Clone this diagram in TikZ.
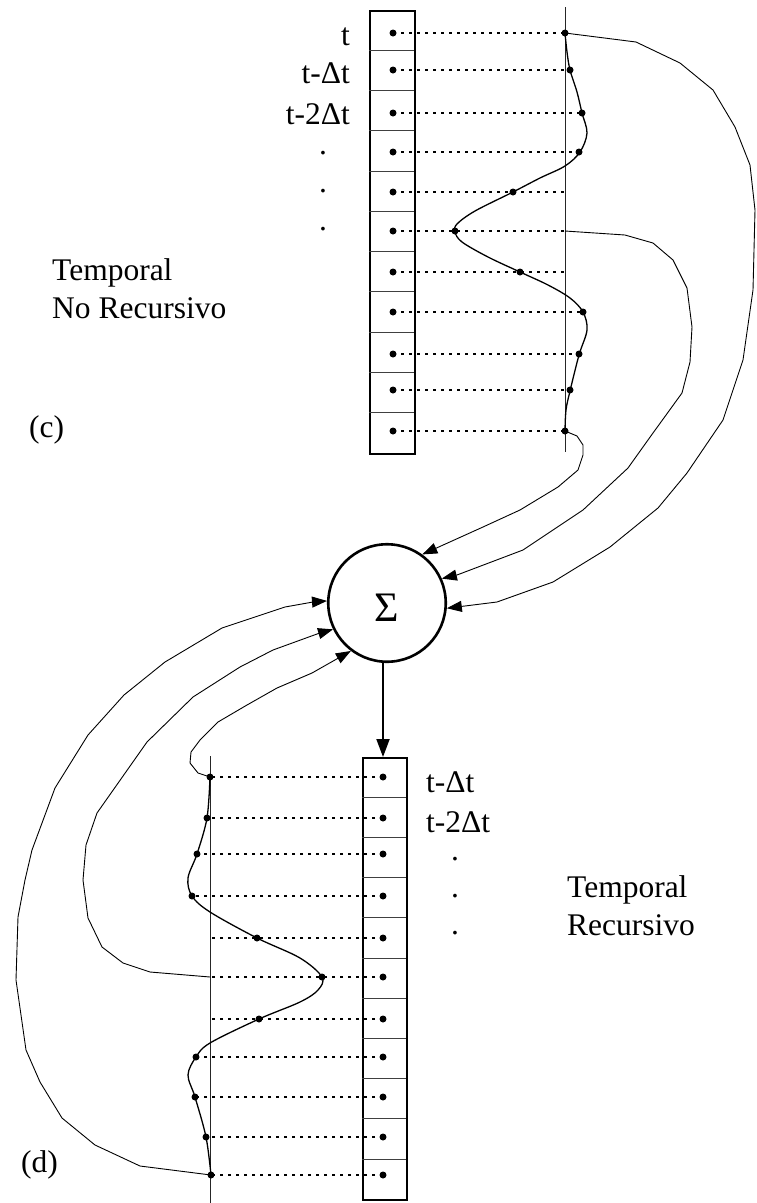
\documentclass[tikz,border=0pt]{standalone}
\usepackage{fontspec}
\setmainfont{Liberation Serif}
\usetikzlibrary{arrows.meta}
\begin{document}
\begin{tikzpicture}[x=1pt,y=-1pt,
  reg/.style={draw, line width=2.2pt, inner sep=0pt, anchor=north west},
  cellline/.style={line width=1pt, draw=black!75},
  guide/.style={line width=1pt, draw=black!85},
  wave/.style={line width=1.3pt},
  dots/.style={line width=2.6pt, dash pattern=on 3pt off 5pt},
  pt/.style={fill, circle, inner sep=0pt, minimum size=7pt},
  feed/.style={line width=0.9pt, -{Triangle[length=15pt,width=11pt]}},
  down/.style={line width=2pt, -{Triangle[length=18pt,width=13pt]}},
  lab/.style={font=\fontsize{31.5}{36}\selectfont, inner sep=0pt},
  sum/.style={draw, circle, line width=2.6pt, minimum size=117.5pt, inner sep=0pt}
]
\useasboundingbox (0,0) rectangle (756,1203);

% ---------- (c) top register ----------
\node[reg, minimum width=45pt, minimum height=443pt] (regc) at (369,10) {};
\foreach \i in {1,...,10} \draw[cellline] (369,{10+40.27*\i}) -- (414,{10+40.27*\i});
\draw[guide] (565,7) -- (565,452);

\foreach \n/\y/\px/\ex in {1/33/565/565, 2/70/570/570, 3/113/582/582, 4/152/579/579,
  5/192/513/565, 6/231/455/565, 7/272/520/565, 8/312/583/583, 9/354/579/579,
  10/390/570/570, 11/431/565/565}{
  \node[pt] (cd\n) at (393,\y) {};
  \node[pt] (cp\n) at (\px,\y) {};
  \coordinate (ce\n) at (\ex,\y);
  \draw[dots] (cd\n.center) -- (ce\n);
}
\draw[wave] plot[smooth, tension=0.55] coordinates {(565,33) (567,52) (570,70) (577,92) (582,113) (587,133) (580,152) (565,166) (540,178) (513,192) (475,211) (457,224) (455,232) (462,242) (488,257) (520,272) (548,285) (570,298) (583,312) (587,330) (579,355) (570,391) (566,410) (565,431)};

% labels (c)
\node[lab, anchor=base east] (lt) at (350,45) {t};
\node[lab, anchor=base east] (ltd) at (350,83) {t-Δt};
\node[lab, anchor=base east] (lt2d) at (350,124) {t-2Δt};
\node[lab, anchor=base] (ldc1) at (323,154) {.};
\node[lab, anchor=base] (ldc2) at (323,192) {.};
\node[lab, anchor=base] (ldc3) at (323,230) {.};
\node[lab, anchor=base west] (ltemp1) at (52,280) {Temporal};
\node[lab, anchor=base west] (lnorec) at (52,318) {No Recursivo};
\node[lab, anchor=base west] (lc) at (29,437) {(c)};

% ---------- summation ----------
\node[sum] (sigma) at (387,603) {};
\node[font=\fontsize{42}{46}\selectfont, inner sep=0pt] (sigmatxt) at (387,608) {Σ};

% arcs from (c)
\draw[feed] (cp1.center) -- (636,42) -- (680,63) -- (713,90) -- (735,127) -- (750,165) -- (755,210) -- (753,290) -- (743,360) -- (723,420) -- (706,445) -- (687,473) -- (658,508) -- (610,547) -- (553,582) -- (497,602) -- (sigma.-5);
\draw[feed] (ce6) -- (625,235) -- (653,243) -- (673,260) -- (687,288) -- (692,327) -- (690,362) -- (682,393) -- (653,433) -- (628,468) -- (583,510) -- (523,550) -- (457,575) -- (sigma.24);
\draw[feed] (cp11.center) -- (577,436) -- (583,445) -- (583,455) -- (578,470) -- (558,487) -- (520,510) -- (483,527) -- (sigma.54);

% ---------- (d) bottom register ----------
\node[reg, minimum width=44pt, minimum height=442pt] (regd) at (362,757) {};
\foreach \i in {1,...,10} \draw[cellline] (362,{757+40.2*\i}) -- (406,{757+40.2*\i});
\draw[guide] (210,756) -- (210,1203);

\foreach \n/\y/\px/\ex in {1/777/210/210, 2/818/207/207, 3/854/197/197, 4/896/192/192,
  5/938/257/210, 6/977/322/210, 7/1019/259/210, 8/1057/196/196, 9/1097/195/195,
  10/1137/206/206, 11/1175/211/211}{
  \node[pt] (dd\n) at (383,\y) {};
  \node[pt] (dp\n) at (\px,\y) {};
  \coordinate (de\n) at (\ex,\y);
  \draw[dots] (dd\n.center) -- (de\n);
}
\draw[wave] plot[smooth, tension=0.55] coordinates {(210,777) (207,818) (197,854) (188,878) (192,896) (210,912) (257,938) (300,958) (322,977) (318,990) (300,1002) (259,1019) (210,1043) (196,1057) (188,1075) (195,1097) (206,1137) (211,1175)};

\draw[down] (sigma.south -| dd1) -- (dd1 |- regd.north);

% arcs into summation from (d)
\draw[feed] (dp1.center) -- (198,773) -- (190,763) -- (191,752) -- (200,740) -- (218,722) -- (247,705) -- (277,688) -- (312,673) -- (sigma.233);
\draw[feed] (de6) -- (150,972) -- (123,963) -- (102,947) -- (88,918) -- (83,880) -- (86,845) -- (97,813) -- (147,742) -- (193,697) -- (240,667) -- (273,650) -- (317,634) -- (sigma.206);
\draw[feed] (dp11.center) -- (140,1166) -- (95,1145) -- (62,1118) -- (40,1082) -- (26,1050) -- (16,980) -- (18,917) -- (25,880) -- (32,850) -- (55,788) -- (88,735) -- (124,695) -- (165,662) -- (222,628) -- (285,607) -- (313,602) -- (sigma.178);

% labels (d)
\node[lab, anchor=base west] (ltdd) at (426,792) {t-Δt};
\node[lab, anchor=base west] (lt2dd) at (426,832) {t-2Δt};
\node[lab, anchor=base] (ldd1) at (455,860) {.};
\node[lab, anchor=base] (ldd2) at (455,897) {.};
\node[lab, anchor=base] (ldd3) at (455,934) {.};
\node[lab, anchor=base west] (ltemp2) at (567,897) {Temporal};
\node[lab, anchor=base west] (lrec) at (567,935) {Recursivo};
\node[lab, anchor=base west] (ld) at (21,1172) {(d)};
\end{tikzpicture}
\end{document}
